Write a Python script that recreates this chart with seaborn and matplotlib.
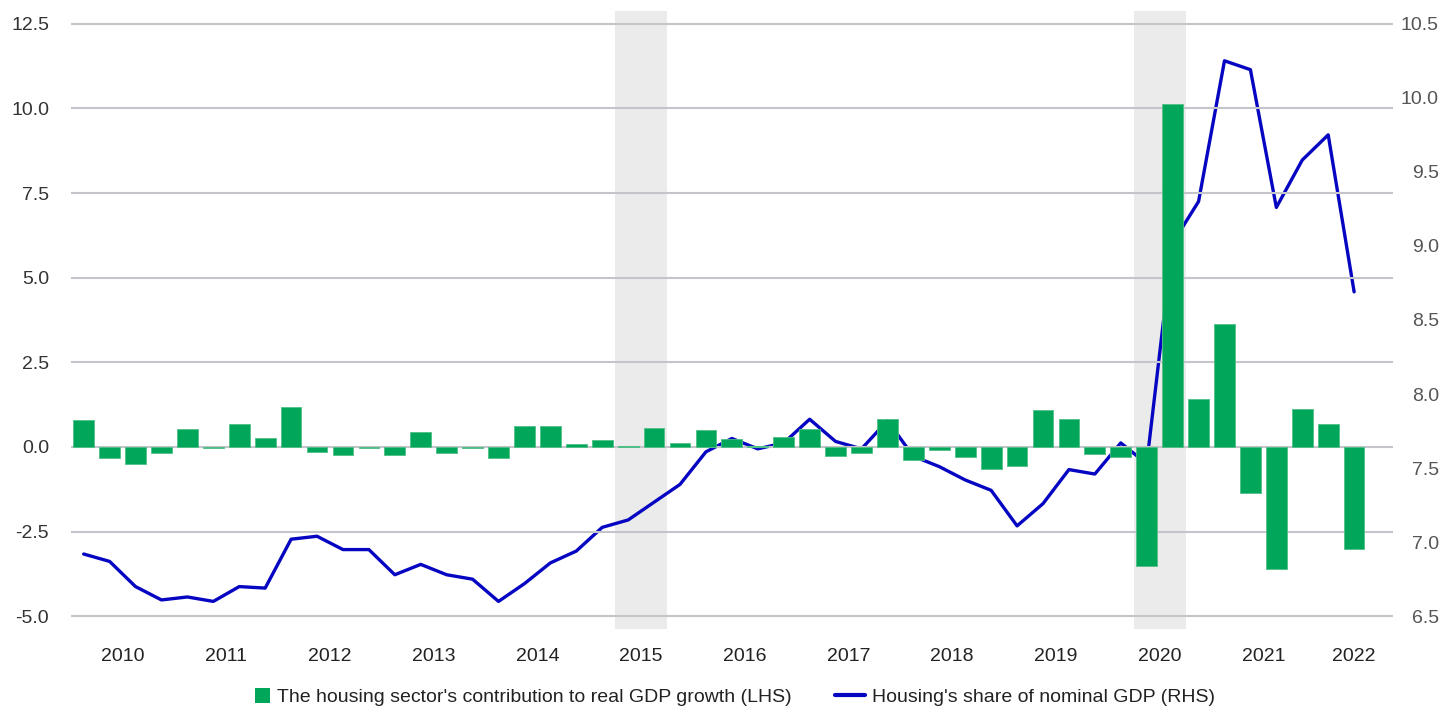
import numpy as np
import pandas as pd
import matplotlib
matplotlib.use('Agg')
import matplotlib.pyplot as plt
import seaborn as sns
from matplotlib.lines import Line2D
from matplotlib.patches import Rectangle
from matplotlib.legend_handler import HandlerPatch

# quarterly data, 2010Q1 - 2022Q2
quarters = [
    '2010Q1', '2010Q2', '2010Q3', '2010Q4', '2011Q1', '2011Q2', '2011Q3', '2011Q4',
    '2012Q1', '2012Q2', '2012Q3', '2012Q4', '2013Q1', '2013Q2', '2013Q3', '2013Q4',
    '2014Q1', '2014Q2', '2014Q3', '2014Q4', '2015Q1', '2015Q2', '2015Q3', '2015Q4',
    '2016Q1', '2016Q2', '2016Q3', '2016Q4', '2017Q1', '2017Q2', '2017Q3', '2017Q4',
    '2018Q1', '2018Q2', '2018Q3', '2018Q4', '2019Q1', '2019Q2', '2019Q3', '2019Q4',
    '2020Q1', '2020Q2', '2020Q3', '2020Q4', '2021Q1', '2021Q2', '2021Q3', '2021Q4',
    '2022Q1', '2022Q2',
]
# housing sector's contribution to real GDP growth (LHS, %)
contribution = [
    0.80, -0.32, -0.51, -0.19, 0.54, -0.04, 0.69, 0.27,
    1.18, -0.15, -0.23, -0.02, -0.23, 0.43, -0.19, -0.04,
    -0.32, 0.63, 0.62, 0.08, 0.21, 0.04, 0.55, 0.13,
    0.49, 0.25, 0.03, 0.28, 0.52, -0.27, -0.19, 0.83,
    -0.37, -0.09, -0.31, -0.65, -0.56, 1.08, 0.82, -0.20,
    -0.31, -3.52, 10.13, 1.43, 3.64, -1.36, -3.60, 1.13,
    0.69, -3.01,
]
# housing's share of nominal GDP (RHS, %)
share = [
    6.92, 6.87, 6.70, 6.61, 6.63, 6.60, 6.70, 6.69,
    7.02, 7.04, 6.95, 6.95, 6.78, 6.85, 6.78, 6.75,
    6.60, 6.72, 6.86, 6.94, 7.10, 7.15, 7.27, 7.39,
    7.61, 7.70, 7.63, 7.67, 7.83, 7.68, 7.63, 7.82,
    7.58, 7.51, 7.42, 7.35, 7.11, 7.26, 7.49, 7.46,
    7.67, 7.53, 9.02, 9.30, 10.25, 10.19, 9.26, 9.58,
    9.75, 8.69,
]
years = ['2010', '2011', '2012', '2013', '2014', '2015', '2016',
         '2017', '2018', '2019', '2020', '2021', '2022']
shaded = [('2015Q2', '2015Q3'), ('2020Q2', '2020Q3')]
lhs_ticks = [-5.0, -2.5, 0.0, 2.5, 5.0, 7.5, 10.0, 12.5]
rhs_ticks = [6.5, 7.0, 7.5, 8.0, 8.5, 9.0, 9.5, 10.0, 10.5]

bar_label = "The housing sector's contribution to real GDP growth (LHS)"
line_label = "Housing's share of nominal GDP (RHS)"

GREEN = '#00a65a'
BLUE = '#0505c2'
BAND = '#ebebeb'
GRID = '#c4c4cb'

df = pd.DataFrame({'quarter': quarters, 'contribution': contribution, 'share': share})
df['pos'] = np.arange(len(df))

sns.set_theme(style='white')
plt.rcParams['font.family'] = ['Liberation Sans', 'DejaVu Sans']

fig = plt.figure(figsize=(14.55, 7.11), dpi=100)
ax = fig.add_axes([0.0486, 0.1158, 0.9088, 0.8687])
ax2 = ax.twinx()

# line + shaded periods on the twin axis, kept underneath the bars
ax.set_zorder(ax2.get_zorder() + 1)
ax.patch.set_visible(False)

for start, end in shaded:
    ax2.axvspan(quarters.index(start) - 0.5, quarters.index(end) + 0.5,
                color=BAND, lw=0, zorder=0)
sns.lineplot(data=df, x='pos', y='share', ax=ax2, color=BLUE, lw=2.4,
             zorder=2, legend=False)

sns.barplot(data=df, x='quarter', y='contribution', ax=ax, color=GREEN,
            saturation=1, width=0.8, edgecolor='#4fbf86', linewidth=0.6)

ax.set_xlim(-0.5, len(quarters) + 0.5)
ax.set_ylim(-5.366, 12.875)
ax2.set_ylim(6.416, 10.586)

ax.set_yticks(lhs_ticks)
ax.set_yticklabels([f'{t:.1f}' for t in lhs_ticks], color='#333333', fontsize=14)
ax2.set_yticks(rhs_ticks)
ax2.set_yticklabels([f'{t:.1f}' for t in rhs_ticks], color='#555555',
                    fontsize=14, ha='right')

# year labels centred on each year's quarters
tick_pos = []
for y in years:
    idx = [i for i, q in enumerate(quarters) if q.startswith(y)]
    tick_pos.append(min(idx[0] + 1.5, idx[-1]))
ax.set_xticks(tick_pos)
ax.set_xticklabels(years, fontsize=14, color='#222222')

ax.yaxis.grid(True, color=GRID, lw=1.5)
ax.xaxis.grid(False)
ax2.grid(False)
ax.set_axisbelow(True)
ax.tick_params(axis='y', length=0, pad=15.5)
ax.tick_params(axis='x', length=0, pad=14)
ax2.tick_params(axis='y', length=0, pad=33)
ax.set_xlabel('')
ax.set_ylabel('')
ax2.set_xlabel('')
ax2.set_ylabel('')
for a in (ax, ax2):
    for s in a.spines.values():
        s.set_visible(False)


def square_patch(legend, orig_handle, xdescent, ydescent, width, height, fontsize):
    return Rectangle((-xdescent + width - height, -ydescent), height, height)


handles = [Rectangle((0, 0), 1, 1, facecolor=GREEN, edgecolor='none'),
           Line2D([0], [0], color=BLUE, lw=3)]
fig.legend(handles, [bar_label, line_label], loc='center',
           bbox_to_anchor=(0.5, 0.02), ncol=2, frameon=False, fontsize=14,
           handlelength=1.55, handleheight=0.82, handletextpad=0.35,
           columnspacing=2.2, labelcolor='#222222',
           handler_map={Rectangle: HandlerPatch(patch_func=square_patch)})

fig.savefig('out.png', dpi=100)
